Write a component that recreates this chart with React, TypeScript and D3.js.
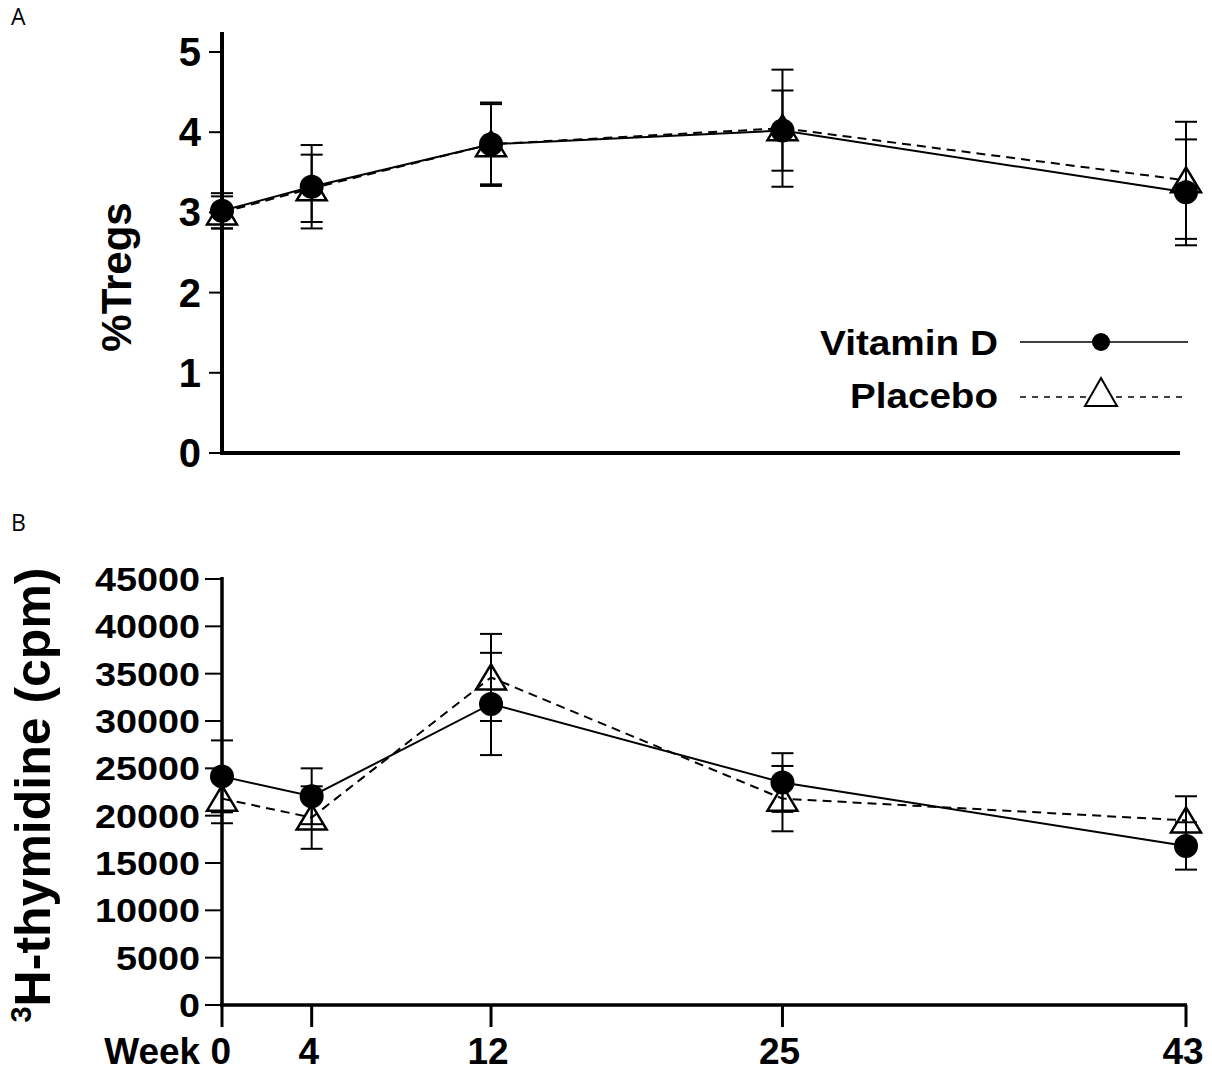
import * as d3 from 'd3';

// weeks of follow-up
const weeks = [0, 4, 12, 25, 43];
const weekLabels = ['Week 0', '4', '12', '25', '43'];

// panel A: % Tregs (mean, sem)
const tregsVitD = [3.02, 3.32, 3.85, 4.02, 3.25];
const tregsVitDErr = [0.22, 0.52, 0.52, 0.5, 0.66];
const tregsPlacebo = [3.0, 3.3, 3.85, 4.05, 3.4];
const tregsPlaceboErr = [0.2, 0.42, 0.5, 0.73, 0.73];
const tregsTicks = [0, 1, 2, 3, 4, 5];

// panel B: 3H-thymidine incorporation (cpm)
const thyVitD = [24150, 22050, 31800, 23500, 16800];
const thyVitDErr = [3800, 2950, 5400, 3100, 2500];
const thyPlacebo = [21800, 19800, 34600, 21800, 19500];
const thyPlaceboErr = [2600, 3300, 4600, 3450, 2550];
const thyTicks = [0, 5000, 10000, 15000, 20000, 25000, 30000, 35000, 40000, 45000];

const FONT = "'Liberation Sans', Arial, Helvetica, sans-serif";

const x = d3.scaleLinear().domain([0, 43]).range([222, 1186]);
const yA = d3.scaleLinear().domain([0, 5]).range([453, 52]);
const yB = d3.scaleLinear().domain([0, 45000]).range([1005, 579]);

const triangle = (cx, cy, s = 1) =>
  `M${cx},${cy - 13 * s}L${cx + 15 * s},${cy + 12 * s}L${cx - 15 * s},${cy + 12 * s}Z`;

function Series({ y, values, errs, kind }) {
  const line = d3
    .line<number>()
    .x((_, i) => x(weeks[i]))
    .y((d) => y(d));
  return (
    <g>
      <path
        d={line(values) ?? ''}
        fill="none"
        stroke="#000"
        strokeWidth={2}
        strokeDasharray={kind === 'placebo' ? '9,6' : undefined}
      />
      {values.map((v, i) => {
        const cx = x(weeks[i]);
        const hi = y(v + errs[i]);
        const lo = y(v - errs[i]);
        return (
          <g key={i} stroke="#000" strokeWidth={2}>
            <line x1={cx} x2={cx} y1={hi} y2={lo} />
            <line x1={cx - 11} x2={cx + 11} y1={hi} y2={hi} />
            <line x1={cx - 11} x2={cx + 11} y1={lo} y2={lo} />
          </g>
        );
      })}
      {values.map((v, i) =>
        kind === 'placebo' ? (
          <path key={'m' + i} d={triangle(x(weeks[i]), y(v))} fill="none" stroke="#000" strokeWidth={2.5} />
        ) : (
          <circle key={'m' + i} cx={x(weeks[i])} cy={y(v)} r={12} fill="#000" />
        ),
      )}
    </g>
  );
}

export default function App() {
  return (
    <svg
      width={1212}
      height={1074}
      style={{ position: 'absolute', left: 0, top: 0, display: 'block', background: '#fff' }}
      fontFamily={FONT}
    >
      <rect width={1212} height={1074} fill="#fff" />

      {/* panel letters */}
      <text x={11} y={25} fontSize={23} fontFamily="'Open Sans', sans-serif">A</text>
      <text x={11} y={531} fontSize={23} fontFamily="'Open Sans', sans-serif">B</text>

      {/* ---------- panel A ---------- */}
      <g>
        <line x1={222} x2={222} y1={32} y2={455} stroke="#000" strokeWidth={4} />
        <line x1={220} x2={1180} y1={453} y2={453} stroke="#000" strokeWidth={4} />
        {tregsTicks.map((t) => (
          <g key={t}>
            <line x1={209} x2={222} y1={yA(t)} y2={yA(t)} stroke="#000" strokeWidth={2} />
            <text x={201} y={yA(t) + 14} fontSize={40} fontWeight="bold" textAnchor="end">
              {t}
            </text>
          </g>
        ))}
        <text
          transform="translate(131,277) rotate(-90)"
          fontSize={42}
          fontWeight="bold"
          textAnchor="middle"
        >
          %Tregs
        </text>

        <Series y={yA} values={tregsPlacebo} errs={tregsPlaceboErr} kind="placebo" />
        <Series y={yA} values={tregsVitD} errs={tregsVitDErr} kind="vitd" />

        {/* legend */}
        <text x={998} y={355} fontSize={35} fontWeight="bold" textAnchor="end" textLength={178} lengthAdjust="spacingAndGlyphs">
          Vitamin D
        </text>
        <line x1={1020} x2={1188} y1={342} y2={342} stroke="#000" strokeWidth={1.6} />
        <circle cx={1101} cy={342} r={9} fill="#000" />
        <text x={998} y={408} fontSize={35} fontWeight="bold" textAnchor="end" textLength={148} lengthAdjust="spacingAndGlyphs">
          Placebo
        </text>
        <line x1={1020} x2={1188} y1={397} y2={397} stroke="#000" strokeWidth={1.6} strokeDasharray="6,6" />
        <path d="M1101,378L1117,406L1085,406Z" fill="#fff" stroke="#000" strokeWidth={2} />
      </g>

      {/* ---------- panel B ---------- */}
      <g>
        <line x1={222} x2={222} y1={577} y2={1007} stroke="#000" strokeWidth={3.5} />
        <line x1={220} x2={1187} y1={1005} y2={1005} stroke="#000" strokeWidth={3.5} />
        {thyTicks.map((t) => (
          <g key={t}>
            <line x1={205} x2={222} y1={yB(t)} y2={yB(t)} stroke="#000" strokeWidth={2} />
            <text
              x={200}
              y={yB(t) + 12}
              fontSize={34}
              fontWeight="bold"
              textAnchor="end"
              textLength={String(t).length * 21}
              lengthAdjust="spacingAndGlyphs"
            >
              {t}
            </text>
          </g>
        ))}
        {weeks.map((w, i) => (
          <g key={w}>
            <line x1={x(w)} x2={x(w)} y1={1005} y2={1027} stroke="#000" strokeWidth={3} />
            <text
              x={i === 0 ? x(w) + 9 : x(w) - 3}
              y={1064}
              fontSize={37}
              fontWeight="bold"
              textAnchor={i === 0 ? 'end' : 'middle'}
            >
              {weekLabels[i]}
            </text>
          </g>
        ))}
        <text
          transform="translate(50,795) rotate(-90)"
          fontSize={50}
          fontWeight="bold"
          textAnchor="middle"
        >
          <tspan fontSize={29} dy={-19}>3</tspan>
          <tspan dy={19}>H-thymidine (cpm)</tspan>
        </text>

        <Series y={yB} values={thyPlacebo} errs={thyPlaceboErr} kind="placebo" />
        <Series y={yB} values={thyVitD} errs={thyVitDErr} kind="vitd" />
      </g>
    </svg>
  );
}
